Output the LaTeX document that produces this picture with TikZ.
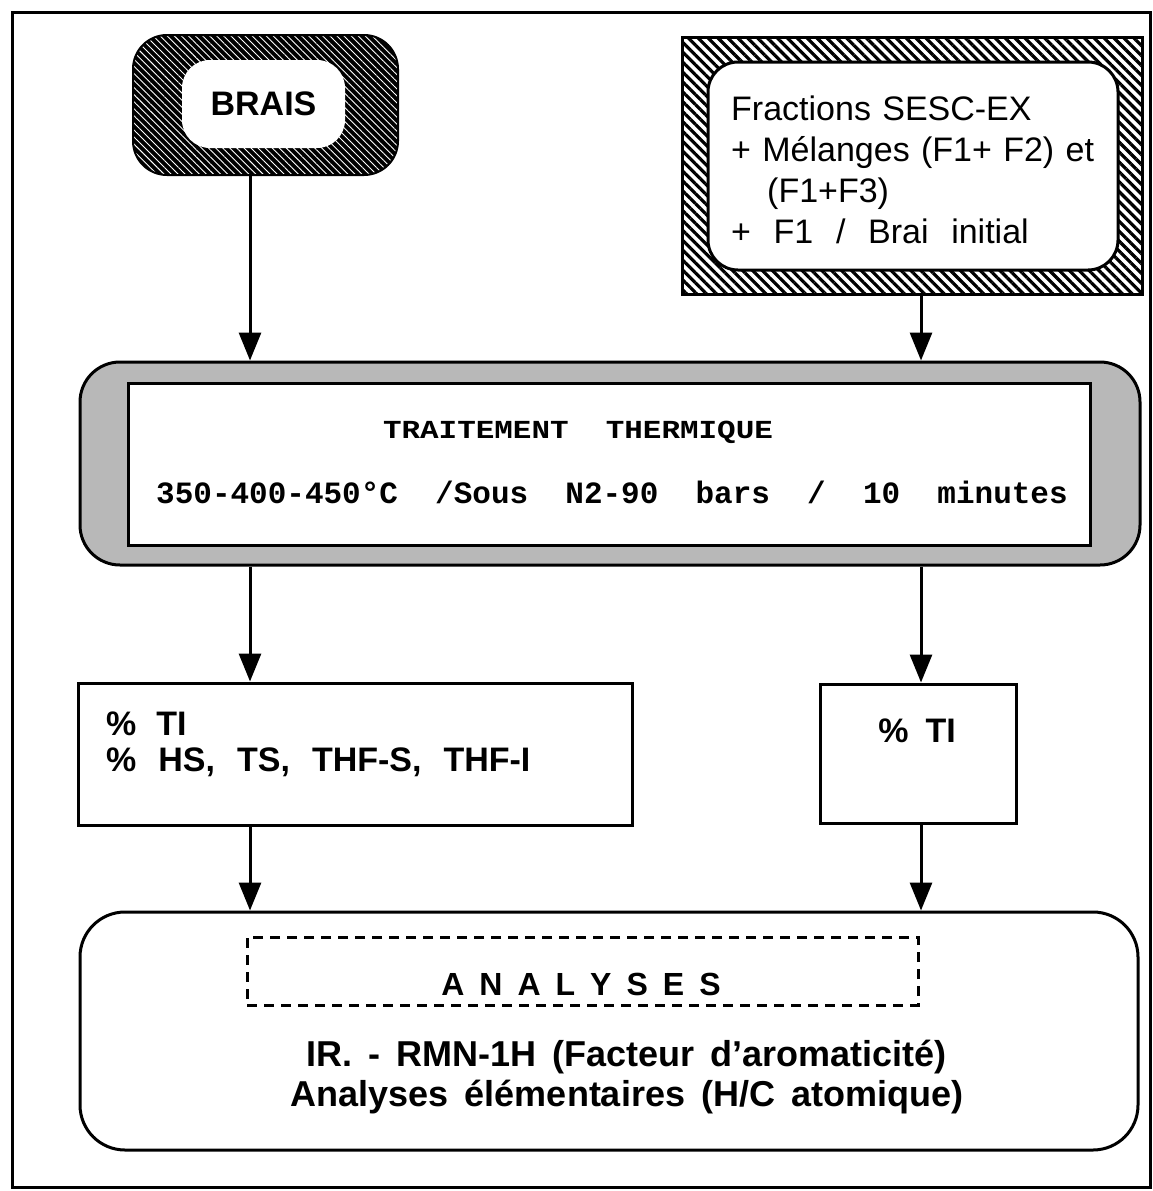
\documentclass[tikz,border=0pt]{standalone}
\usepackage{fontspec}
\setmainfont{Liberation Sans}
\newfontfamily\monofnt{Liberation Mono}
\usepackage{graphicx}
\usetikzlibrary{arrows.meta,patterns.meta}
\tikzset{
  arr/.style={line width=3pt,-{Triangle[length=28pt,width=22pt]}},
  plainbox/.style={draw,line width=3pt,fill=white,inner sep=0pt},
  braisouter/.style={draw,line width=2pt,rounded corners=34pt,inner sep=0pt,
     minimum width=265pt,minimum height=140pt,
     preaction={fill=black},pattern={Lines[angle=-45,distance=5pt,line width=0.9pt]},pattern color=white},
  fracouter/.style={draw,line width=3pt,inner sep=0pt,
     minimum width=460pt,minimum height=257pt,
     preaction={fill=white},pattern={Lines[angle=-45,distance=7pt,line width=3.2pt]},pattern color=black},
  traitouter/.style={draw,line width=3pt,rounded corners=40pt,inner sep=0pt,
     minimum width=1060pt,minimum height=203pt,fill=black!28},
  bf/.style={font=\bfseries\fontsize{#1}{#1}\selectfont},
  monobf/.style={inner sep=0pt,font=\monofnt\bfseries\fontsize{#1}{#1}\selectfont},
}
\begin{document}
\begin{tikzpicture}[x=1pt,y=-1pt]
\useasboundingbox (0,0) rectangle (1153,1191);
\draw[line width=3pt] (12,12) rectangle (1150,1187);
\coordinate (colL) at (250,0);
\coordinate (colR) at (921,0);
% BRAIS
\node[braisouter] (braisO) at (265.5,105) {};
\node[plainbox,draw=none,rounded corners=28pt,minimum width=163pt,minimum height=88pt,bf=34] (braisI) at (263.5,104) {BRAIS};
% Fractions
\node[fracouter] (fracO) at (912,166) {};
\node[plainbox,rounded corners=30pt,minimum width=410pt,minimum height=208pt] (fracI) at (913,166) {};
\node[anchor=west,align=left,text width=400pt,inner sep=0pt,
  font=\fontsize{34}{41}\selectfont] (fracT) at (731,170)
  {Fractions SESC-EX\\+ Mélanges (F1+ F2) et\\\hspace*{36pt}(F1+F3)\\+ \ F1 \ / \ Brai \ initial};
% Traitement
\node[traitouter] (traitO) at (610,463.5) {};
\node[plainbox,minimum width=962pt,minimum height=162pt] (traitI) at (609,464) {};
\node[monobf=26] (titre) at (578,432)
  {\scalebox{1.19}[1]{TRAITEMENT\ \ THERMIQUE}};
\node[monobf=31] (cond) at (612,492)
  {350-400-450°C\ \ /Sous\ \ N2-90\ \ bars\ \ /\ \ 10\ \ minutes};
% result boxes
\node[plainbox,minimum width=554pt,minimum height=142pt] (tiL) at (355,754) {};
\node[anchor=west,align=left,inner sep=0pt,font=\bfseries\fontsize{34}{34}\selectfont] (tiLT) at (106,744)
  {\spaceskip=20pt \% TI\\[2pt]\spaceskip=22pt \% HS, TS, THF-S, THF-I};
\node[plainbox,minimum width=196pt,minimum height=139pt] (tiR) at (918,753.5) {};
\node[inner sep=0pt,bf=34] (tiRT) at (917,731) {\spaceskip=17pt \% TI};
% Analyses
\node[plainbox,rounded corners=45pt,minimum width=1058pt,minimum height=238pt] (anal) at (609,1031) {};
\node[draw,dash pattern=on 10pt off 7pt,line width=3pt,inner sep=0pt,minimum width=671pt,minimum height=68pt] (dashb) at (582.5,971) {};
\node[inner sep=0pt,bf=32] (analT) at (581,984) {\spaceskip=15pt A N A L Y S E S};
\node[inner sep=0pt,align=center,font=\bfseries\fontsize{36}{40}\selectfont] (analL) at (627,1077)
  {\spaceskip=16pt IR. - RMN-1H (Facteur d'aromaticité)\\\spaceskip=16pt Analyses élémentaires (H/C atomique)};
% arrows
\draw[arr] (braisO.south -| colL) -- (traitO.north -| colL);
\draw[arr] (fracO.south -| colR) -- (traitO.north -| colR);
\draw[arr] (traitO.south -| colL) -- (tiL.north -| colL);
\draw[arr] (traitO.south -| colR) -- (tiR.north -| colR);
\draw[arr] (tiL.south -| colL) -- (anal.north -| colL);
\draw[arr] (tiR.south -| colR) -- (anal.north -| colR);
\end{tikzpicture}
\end{document}
